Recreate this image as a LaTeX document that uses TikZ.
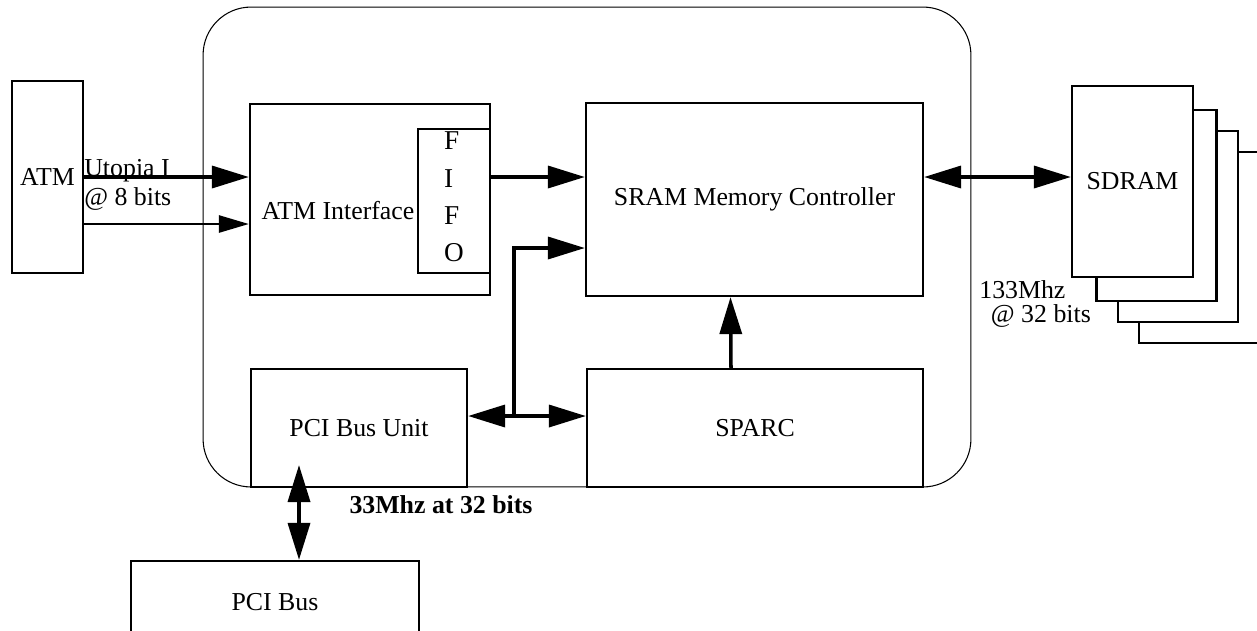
\documentclass[tikz,border=0pt]{standalone}
\usepackage{fontspec}
\setmainfont{Liberation Serif}
\usetikzlibrary{calc, arrows.meta, positioning}

\begin{document}
\begin{tikzpicture}[x=0.02cm, y=-0.02cm, font=\fontsize{14.7}{17}\selectfont,
    blk/.style={draw, line width=1.3pt, inner sep=0pt},
    bus/.style={line width=2pt, -{Triangle[length=0.74cm, width=0.44cm]}},
    dbus/.style={line width=2pt, {Triangle[length=0.74cm, width=0.44cm]}-{Triangle[length=0.74cm, width=0.44cm]}},
    thinbus/.style={line width=1.5pt, -{Triangle[length=0.6cm, width=0.34cm]}}]
    \useasboundingbox (0,0) rectangle (1257,630);
    % Chip outline
    \node[draw, line width=0.6pt, rounded corners=0.96cm, minimum width=15.36cm, minimum height=9.6cm] (chip) at (587,247) {};
    % Blocks on the chip
    \node[blk, minimum width=1.42cm, minimum height=3.84cm] (atm) at (47.5,177) {ATM};
    \node[blk, minimum width=4.8cm, minimum height=3.82cm] (atmif) at (370,199.5) {};
    \node (atmiftxt) at (338,211) {ATM Interface};
    \node[blk, align=left, font=\fontsize{14.7}{21.3}\selectfont, minimum width=1.44cm, minimum height=2.88cm]
      (fifo) at (454,201) {};
    \node[align=left, font=\fontsize{15.5}{21.3}\selectfont, inner sep=0pt] (fifotxt) at (454,197) {F\\I\\F\\O};
    \node[blk, minimum width=6.74cm, minimum height=3.86cm] (sram) at (754.5,199.5) {SRAM Memory Controller};
    \node[blk, minimum width=4.32cm, minimum height=2.36cm] (pciu) at (359,428) {PCI Bus Unit};
    \node[blk, minimum width=6.72cm, minimum height=2.36cm] (sparc) at (755,428) {SPARC};
    \node[blk, minimum width=5.76cm, minimum height=1.64cm] (pcibus) at (275,602) {PCI Bus};
    % SDRAM banks
    \foreach \i/\x/\y in {3/1199/247.5, 2/1178/226.5, 1/1156.5/205.5} {
      \node[blk, fill=white, minimum width=2.4cm, minimum height=3.82cm] (sdram\i) at (\x,\y) {};
    }
    \node[blk, fill=white, minimum width=2.42cm, minimum height=3.82cm] (sdram0) at (1132.5,181.5) {SDRAM};
    % Connections
    \coordinate (atmlow) at ($(atm.east)+(0,47)$);
    \draw[bus] (atm.east) -- (atm.east -| atmif.west);
    \draw[thinbus] (atmlow) -- (atmlow -| atmif.west);
    \draw[bus] (fifo.east |- atm.east) -- (sram.west |- atm.east);
    \draw[dbus] (sram.east |- atm.east) -- (sdram0.west |- atm.east);
    \coordinate (jn) at (514,416);
    \coordinate (jtop) at (514,248);
    \draw[dbus] (pciu.east |- jn) -- (sparc.west |- jn);
    \draw[bus] (jn) -- (jtop) -- (jtop -| sram.west);
    \draw[bus] ($(sparc.north)+(-24,0)$) -- ($(sram.south)+(-24,0)$);
    \coordinate (pcitap) at (299,465);
    \draw[dbus] (pcitap) -- (pcitap |- pcibus.north);
    % Labels
    \node[anchor=north west, align=left, inner sep=0pt, font=\fontsize{14.7}{16.5}\selectfont]
      (utopia) at (84,159) {Utopia I\\@ 8 bits};
    \node[anchor=north west, align=left, inner sep=0pt, font=\fontsize{14.7}{14}\selectfont]
      (sdramlbl) at (979,280) {133Mhz\\\hspace*{0.45em}@ 32 bits};
    \node[font=\fontsize{14.7}{17}\selectfont\bfseries] (pcilbl) at (441,505) {33Mhz at 32 bits};
\end{tikzpicture}
\end{document}
